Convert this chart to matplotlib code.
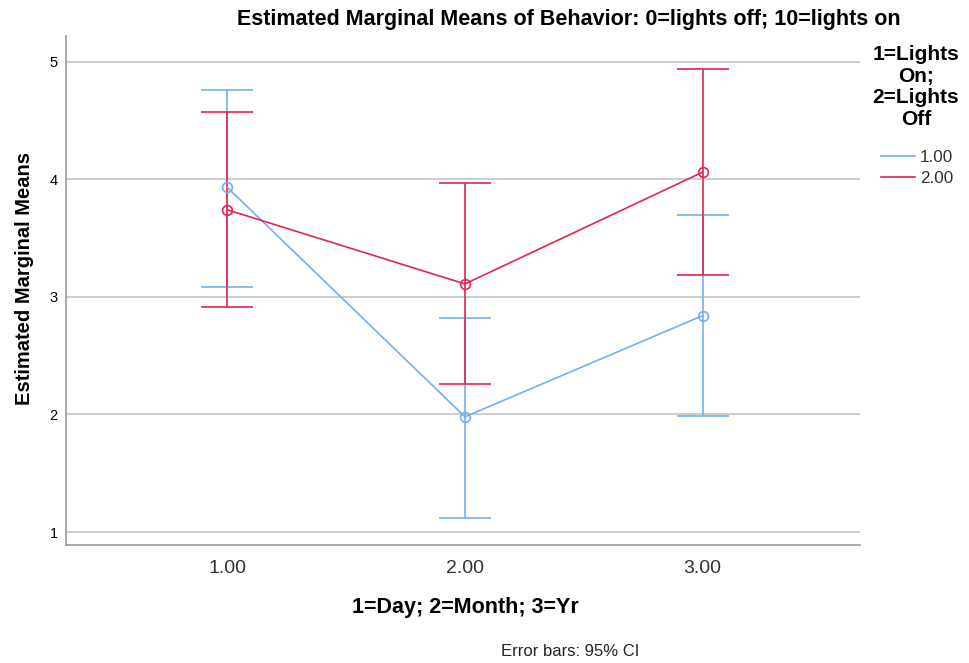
import matplotlib.pyplot as plt
from matplotlib.lines import Line2D
import numpy as np

plt.rcParams['font.family'] = ['Liberation Sans', 'DejaVu Sans']

# x levels: 1=Day; 2=Month; 3=Yr
time_levels = [1.0, 2.0, 3.0]
tick_labels = ['1.00', '2.00', '3.00']

# group 1.00 (lights on)
on_mean = [3.93, 1.98, 2.84]
on_lo = [3.08, 1.12, 1.99]
on_hi = [4.76, 2.82, 3.70]

# group 2.00 (lights off)
off_mean = [3.74, 3.11, 4.06]
off_lo = [2.91, 2.26, 3.19]
off_hi = [4.57, 3.97, 4.94]

group_names = ['1.00', '2.00']

blue = '#75AEF0'
red = '#E2254F'

fig = plt.figure(figsize=(9.69, 6.63), dpi=100)
ax = fig.add_axes([0.068, 0.178, 0.82, 0.768])

series = [
    (on_mean, on_lo, on_hi, blue),
    (off_mean, off_lo, off_hi, red),
]
for m, lo, hi, col in series:
    m = np.array(m)
    err = [m - np.array(lo), np.array(hi) - m]
    ax.errorbar(time_levels, m, yerr=err, color=col, lw=1.2, capsize=18.5,
                capthick=1.2, marker='o', markersize=7, mfc='none', mec=col,
                mew=1.2, zorder=3)

ax.set_xlim(0.32, 3.665)
ax.set_ylim(0.89, 5.22)
ax.set_yticks([1, 2, 3, 4, 5])
ax.set_xticks(time_levels)
ax.set_xticklabels(tick_labels, fontsize=14, color='#333333')
ax.tick_params(axis='y', labelsize=10.5, length=0, pad=6)
ax.tick_params(axis='x', length=0, pad=11)
ax.yaxis.grid(True, color='#C8C8C8', lw=1.3)
ax.set_axisbelow(True)
for s in ['top', 'right']:
    ax.spines[s].set_visible(False)
for s in ['left', 'bottom']:
    ax.spines[s].set_color('#999999')
    ax.spines[s].set_linewidth(1.2)

fig.text(25 / 969, 1 - 278 / 663, 'Estimated Marginal Means', rotation=90,
         ha='center', va='center', fontsize=14.5, fontweight='bold')
fig.text(569 / 969, 1 - 19 / 663, 'Estimated Marginal Means of Behavior: 0=lights off; 10=lights on',
         ha='center', va='center', fontsize=15.5, fontweight='bold')
fig.text(465 / 969, 1 - 608 / 663, '1=Day; 2=Month; 3=Yr', ha='center', va='center',
         fontsize=15.5, fontweight='bold')
fig.text(570 / 969, 1 - 652 / 663, 'Error bars: 95% CI', ha='center', va='center',
         fontsize=12, color='#222222')

# legend title drawn separately so it can be centred like the original
fig.text(916 / 969, 1 - 87 / 663, '1=Lights\nOn;\n2=Lights\nOff', ha='center', va='center',
         fontsize=15, fontweight='bold', multialignment='center', linespacing=1.18)

handles = [Line2D([], [], color=c, lw=1.2) for c in [blue, red]]
leg = fig.legend(handles, group_names, loc='center left',
                 bbox_to_anchor=(872 / 969, 1 - 168 / 663), borderpad=0,
                 frameon=False, fontsize=12.3, handlelength=2.0,
                 handletextpad=0.3, labelspacing=0.3)
for t in leg.get_texts():
    t.set_color('#333333')

fig.savefig('out.png', dpi=100)
